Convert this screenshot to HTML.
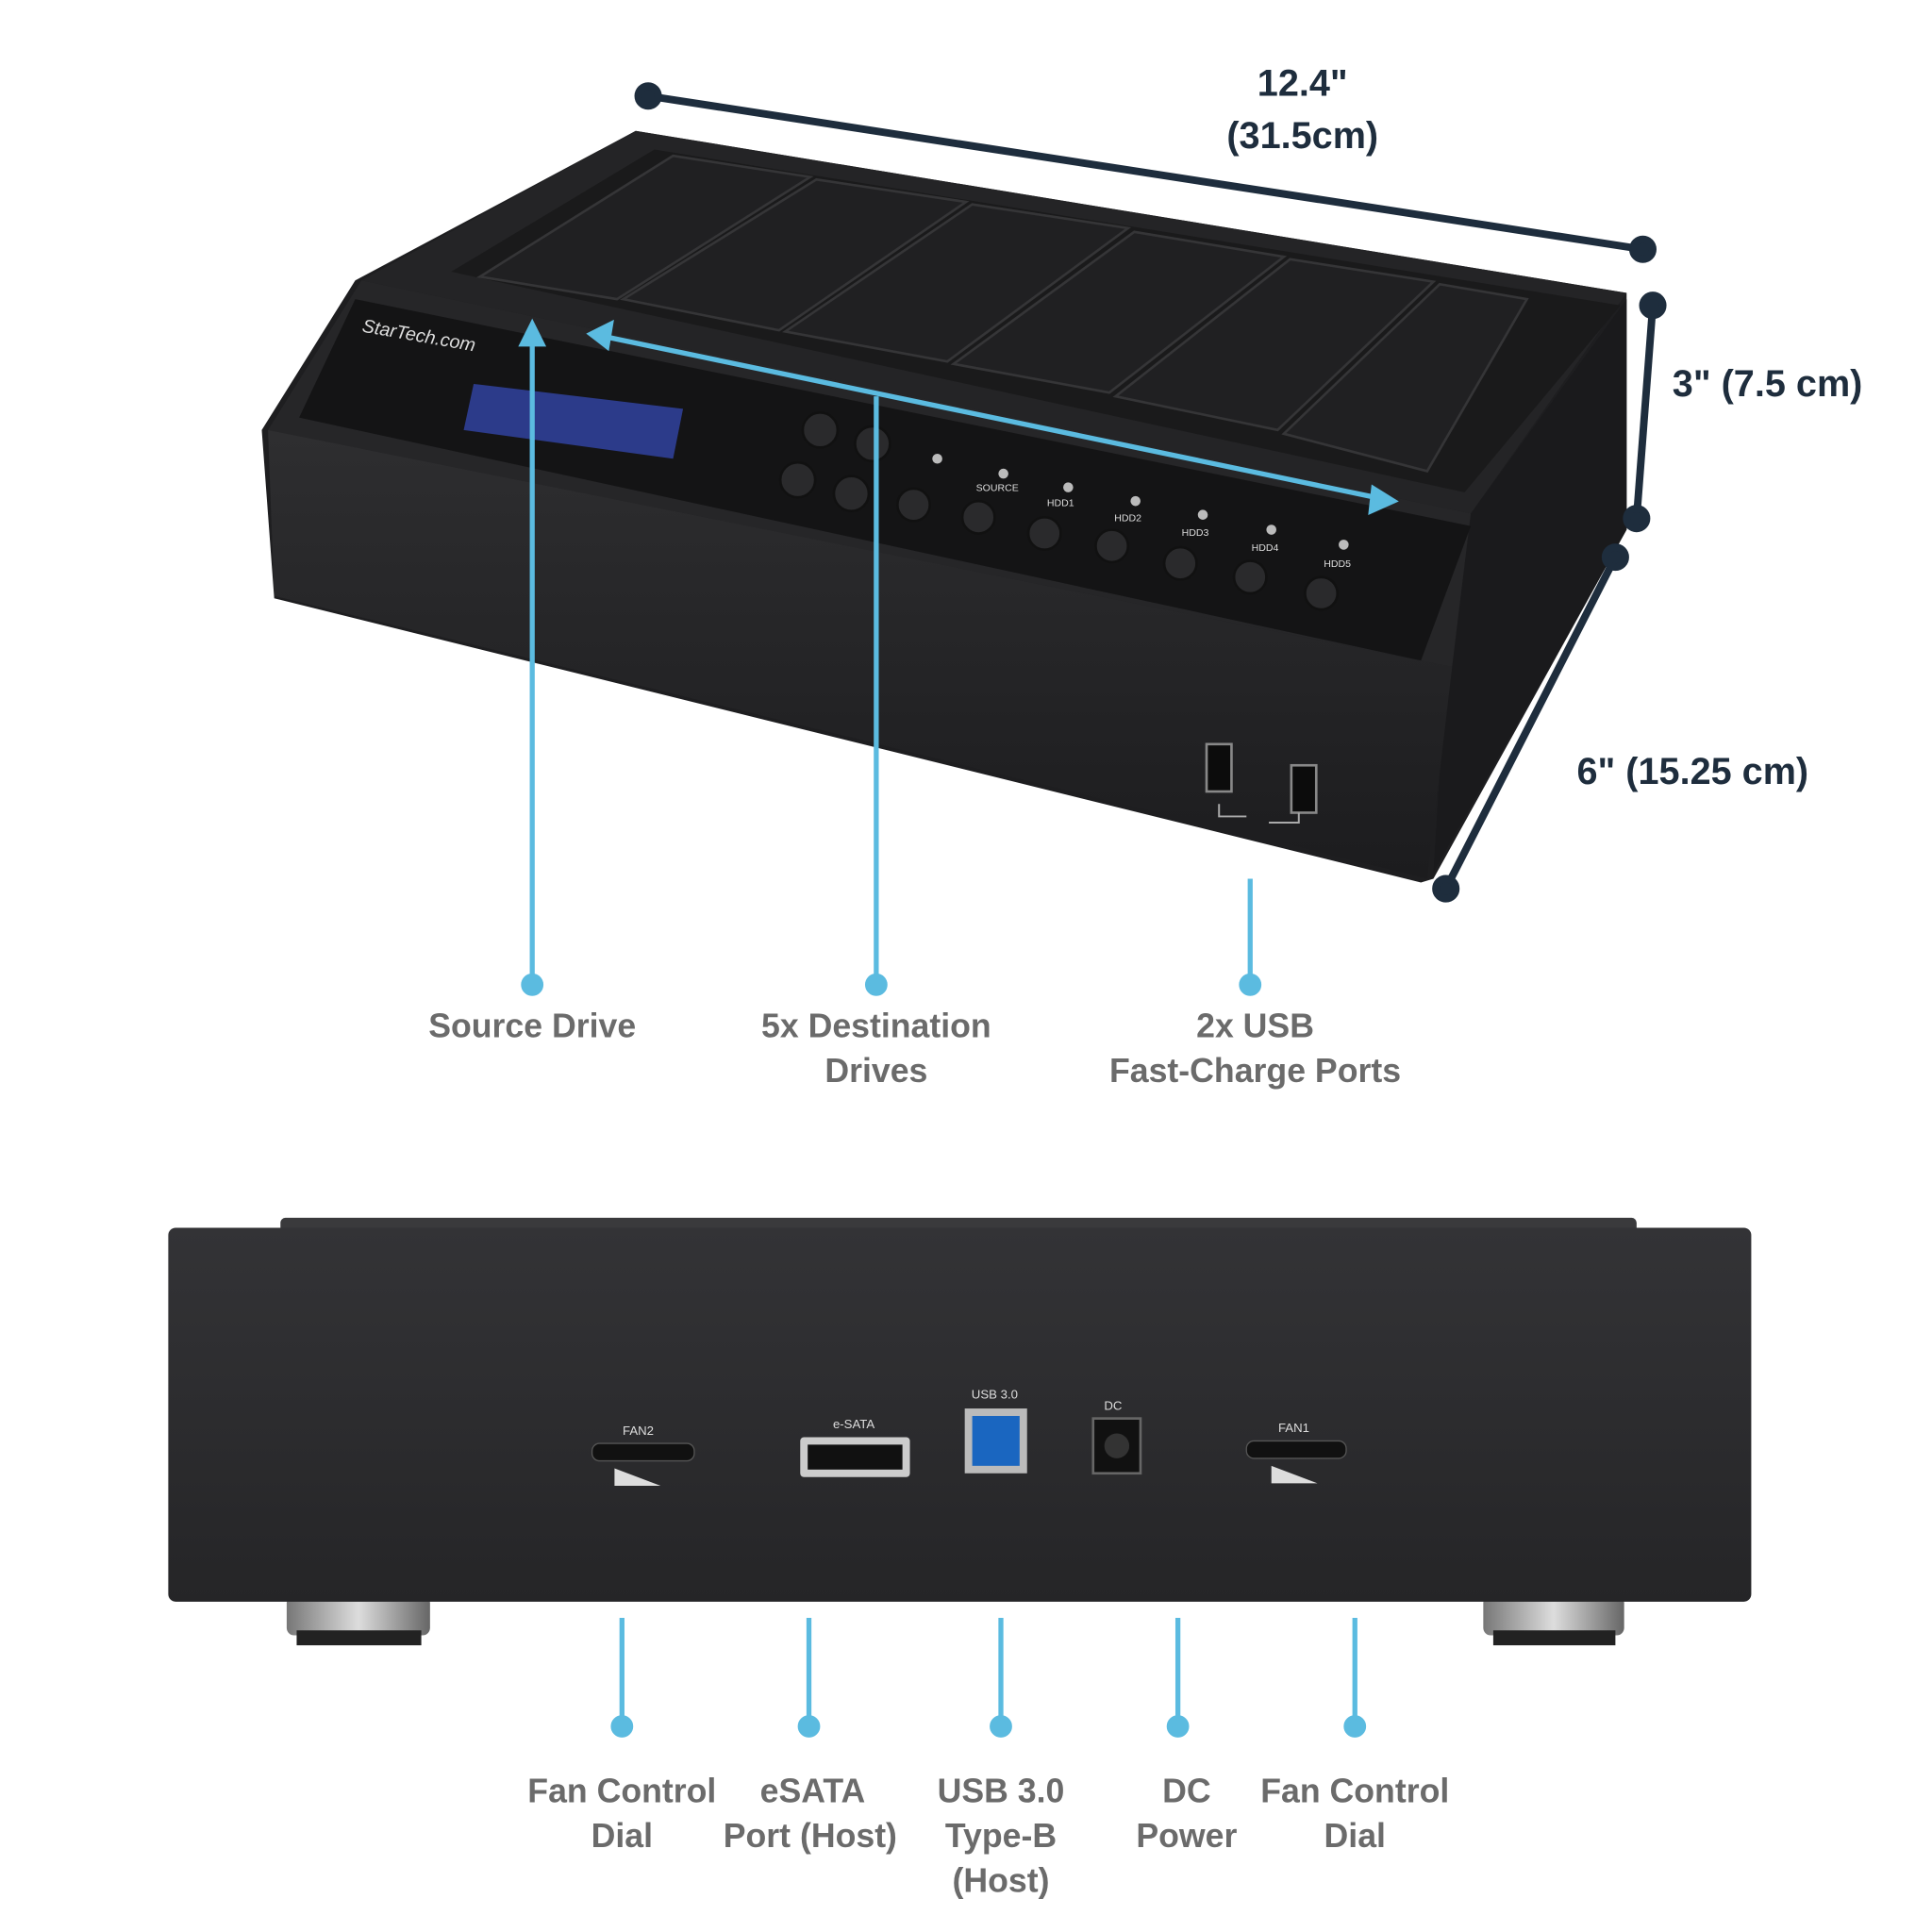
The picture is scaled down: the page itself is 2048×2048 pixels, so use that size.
<!DOCTYPE html>
<html><head><meta charset="utf-8"><style>
html,body{margin:0;padding:0;background:#fff;}
svg{display:block;}
text{font-family:"Liberation Sans",sans-serif;}
</style></head><body>
<svg width="2048" height="2048" viewBox="0 0 1550 1550" xmlns="http://www.w3.org/2000/svg">
<defs>
<linearGradient id="fr" x1="0" y1="0" x2="0" y2="1"><stop offset="0" stop-color="#2e2e30"/><stop offset="1" stop-color="#1c1c1e"/></linearGradient>
<linearGradient id="bk" x1="0" y1="0" x2="0" y2="1"><stop offset="0" stop-color="#333336"/><stop offset="1" stop-color="#252527"/></linearGradient>
<linearGradient id="ft" x1="0" y1="0" x2="1" y2="0"><stop offset="0" stop-color="#777"/><stop offset=".5" stop-color="#ddd"/><stop offset="1" stop-color="#666"/></linearGradient>
</defs>
<!-- top device -->
<polygon points="510,105 1305,235 1305,425 1150,705 1140,708 220,480 210,345 285,225" fill="#1e1e20"/>
<polygon points="510,105 1305,235 1180,412 290,225" fill="#242426"/>
<polygon points="362,218 525,120 1300,245 1175,395" fill="#1a1a1b"/>
<polygon points="1180,412 1305,240 1305,425 1150,700 1160,540" fill="#1a1a1c"/>
<polygon points="290,225 1180,412 1165,535 215,345" fill="#262628"/>
<polygon points="240,335 285,240 1180,422 1140,530" fill="#141415"/>
<polygon points="215,345 1165,535 1145,705 220,478" fill="url(#fr)"/>
<!-- bays -->
<g fill="#202022" stroke="#353537" stroke-width="2">
<polygon points="385,222 540,125 650,142 495,240"/>
<polygon points="500,240 655,144 775,162 625,265"/>
<polygon points="630,266 780,164 905,183 760,290"/>
<polygon points="765,292 910,186 1030,206 890,315"/>
<polygon points="895,318 1035,208 1150,226 1025,345"/>
<polygon points="1030,348 1155,228 1225,240 1145,378"/>
</g>
<!-- LCD -->
<polygon points="380,308 548,328 540,368 372,345" fill="#2c3b8a"/>
<text x="290" y="266" fill="#ddd" font-size="15" font-style="italic" transform="rotate(10 290 266)">StarTech.com</text>
<!-- buttons -->
<g fill="#2a2a2c" stroke="#111" stroke-width="2">
<circle cx="658" cy="345" r="14"/><circle cx="700" cy="356" r="14"/><circle cx="640" cy="385" r="14"/><circle cx="683" cy="396" r="14"/>
<circle cx="733" cy="405" r="13"/><circle cx="785" cy="415" r="13"/><circle cx="838" cy="428" r="13"/><circle cx="892" cy="438" r="13"/><circle cx="947" cy="452" r="13"/><circle cx="1003" cy="463" r="13"/><circle cx="1060" cy="476" r="13"/>
</g>
<g fill="#bbb"><circle cx="752" cy="368" r="4"/><circle cx="805" cy="380" r="4"/><circle cx="857" cy="391" r="4"/><circle cx="911" cy="402" r="4"/><circle cx="965" cy="413" r="4"/><circle cx="1020" cy="425" r="4"/><circle cx="1078" cy="437" r="4"/></g>
<g fill="#ddd" font-size="8"><text x="783" y="394">SOURCE</text><text x="840" y="406">HDD1</text><text x="894" y="418">HDD2</text><text x="948" y="430">HDD3</text><text x="1004" y="442">HDD4</text><text x="1062" y="455">HDD5</text></g>
<!-- USB ports -->
<rect x="968" y="597" width="20" height="38" fill="#0c0c0c" stroke="#888" stroke-width="2"/>
<rect x="1036" y="614" width="20" height="38" fill="#0c0c0c" stroke="#888" stroke-width="2"/>
<path d="M978 645 v10 h22 M1018 660 h24 v-8" stroke="#aaa" fill="none" stroke-width="1.5"/>
<!-- dimension lines -->
<g stroke="#1e2d3d" stroke-width="6" fill="#1e2d3d">
<line x1="520" y1="77" x2="1318" y2="200"/><circle cx="520" cy="77" r="8"/><circle cx="1318" cy="200" r="8"/>
<line x1="1326" y1="245" x2="1313" y2="416"/><circle cx="1326" cy="245" r="8"/><circle cx="1313" cy="416" r="8"/>
<line x1="1296" y1="447" x2="1160" y2="713"/><circle cx="1296" cy="447" r="8"/><circle cx="1160" cy="713" r="8"/>
</g>
<g fill="#1e2d3d" font-size="30" font-weight="bold" text-anchor="middle">
<text x="1045" y="77">12.4"</text><text x="1045" y="119">(31.5cm)</text>
<text x="1418" y="318">3" (7.5 cm)</text><text x="1358" y="629">6" (15.25 cm)</text>
</g>
<!-- blue callouts top -->
<g stroke="#5bbbe0" stroke-width="4" fill="#5bbbe0">
<line x1="427" y1="268" x2="427" y2="790"/><polygon points="427,260 419,276 435,276"/><circle cx="427" cy="790" r="7"/>
<line x1="703" y1="318" x2="703" y2="790"/><circle cx="703" cy="790" r="7"/>
<line x1="485" y1="270" x2="1108" y2="400"/><polygon points="474,268 490,260 487,278"/><polygon points="1118,402 1102,392 1100,410"/>
<line x1="1003" y1="705" x2="1003" y2="790"/><circle cx="1003" cy="790" r="7"/>
</g>
<g fill="#6b6b6b" font-size="27" font-weight="bold" text-anchor="middle">
<text x="427" y="832">Source Drive</text>
<text x="703" y="832">5x Destination</text><text x="703" y="868">Drives</text>
<text x="1007" y="832">2x USB</text><text x="1007" y="868">Fast-Charge Ports</text>
</g>
<!-- bottom device -->
<rect x="230" y="1280" width="115" height="32" rx="6" fill="url(#ft)"/><rect x="238" y="1308" width="100" height="12" fill="#222"/>
<rect x="1190" y="1280" width="113" height="32" rx="6" fill="url(#ft)"/><rect x="1198" y="1308" width="98" height="12" fill="#222"/>
<rect x="225" y="977" width="1088" height="12" rx="4" fill="#3a3a3c"/>
<rect x="135" y="985" width="1270" height="300" rx="6" fill="url(#bk)"/>
<g fill="#ddd" font-size="10" text-anchor="middle">
<text x="512" y="1151">FAN2</text><text x="685" y="1146">e-SATA</text><text x="798" y="1122">USB 3.0</text><text x="893" y="1131">DC</text><text x="1038" y="1149">FAN1</text>
</g>
<rect x="475" y="1158" width="82" height="14" rx="6" fill="#111" stroke="#555"/>
<polygon points="493,1192 530,1192 493,1178" fill="#ddd"/>
<rect x="1000" y="1156" width="80" height="14" rx="6" fill="#111" stroke="#555"/>
<polygon points="1020,1190 1057,1190 1020,1176" fill="#ddd"/>
<rect x="642" y="1153" width="88" height="32" rx="3" fill="#ccc"/><rect x="648" y="1159" width="76" height="20" fill="#111"/>
<rect x="774" y="1130" width="50" height="52" fill="#bbb"/><rect x="780" y="1136" width="38" height="40" fill="#1a66c0"/>
<rect x="877" y="1138" width="38" height="44" fill="#111" stroke="#666" stroke-width="2"/><circle cx="896" cy="1160" r="10" fill="#333"/>
<g stroke="#5bbbe0" stroke-width="4" fill="#5bbbe0">
<line x1="499" y1="1298" x2="499" y2="1385"/><circle cx="499" cy="1385" r="7"/>
<line x1="649" y1="1298" x2="649" y2="1385"/><circle cx="649" cy="1385" r="7"/>
<line x1="803" y1="1298" x2="803" y2="1385"/><circle cx="803" cy="1385" r="7"/>
<line x1="945" y1="1298" x2="945" y2="1385"/><circle cx="945" cy="1385" r="7"/>
<line x1="1087" y1="1298" x2="1087" y2="1385"/><circle cx="1087" cy="1385" r="7"/>
</g>
<g fill="#6b6b6b" font-size="27" font-weight="bold" text-anchor="middle">
<text x="499" y="1446">Fan Control</text><text x="499" y="1482">Dial</text>
<text x="652" y="1446">eSATA</text><text x="650" y="1482">Port (Host)</text>
<text x="803" y="1446">USB 3.0</text><text x="803" y="1482">Type-B</text><text x="803" y="1518">(Host)</text>
<text x="952" y="1446">DC</text><text x="952" y="1482">Power</text>
<text x="1087" y="1446">Fan Control</text><text x="1087" y="1482">Dial</text>
</g>
</svg>
</body></html>
